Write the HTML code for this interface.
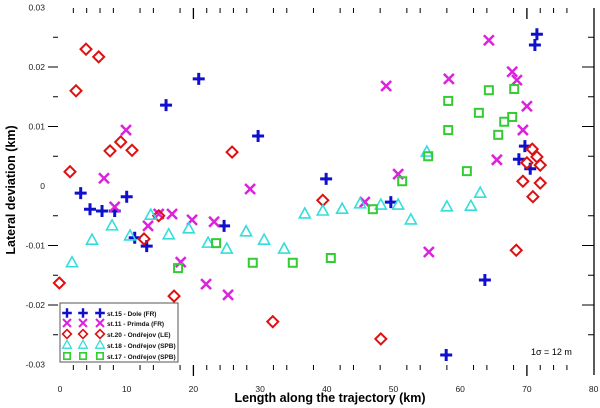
<!DOCTYPE html>
<html><head><meta charset="utf-8"><style>
body{margin:0;background:#fff;}
svg{display:block;font-family:"Liberation Sans",sans-serif;}
</style></head><body>
<svg id="chart" width="600" height="408" viewBox="0 0 600 408">
<g id="axes"></g>
<g id="marks"></g>
<g id="legend"></g>
<text x="330" y="402" text-anchor="middle" font-size="12.5" font-weight="bold">Length along the trajectory (km)</text>
<text x="0" y="0" transform="translate(15,190) rotate(-90)" text-anchor="middle" font-size="12.5" font-weight="bold">Lateral deviation (km)</text>
<text x="531" y="355" font-size="9">1σ = 12 m</text>
</svg>
<script>
const xTicks=[0,10,20,30,40,50,60,70,80];
const yTicks=[0.03,0.02,0.01,0,-0.01,-0.02,-0.03];
const yTickLabels=["0.03","0.02","0.01","0","-0.01","-0.02","-0.03"];
const blueX=[3.1,4.5,6.3,8.2,10.0,11.2,13.0,15.9,20.8,24.6,29.7,39.9,49.6,57.9,63.7,68.8,69.7,70.5,71.2,71.5];
const blueY=[-0.0012,-0.0039,-0.0042,-0.0042,-0.0018,-0.0087,-0.0101,0.0136,0.018,-0.0067,0.0084,0.0012,-0.0027,-0.0284,-0.0158,0.0045,0.0067,0.0029,0.0237,0.0255];
const magX=[6.6,9.9,8.2,13.2,14.8,16.8,19.8,23.1,18.1,21.9,25.2,28.5,45.7,50.7,55.3,48.9,58.3,64.3,67.8,68.5,70.0,69.4,65.5];
const magY=[0.0013,0.0094,-0.0035,-0.0067,-0.0047,-0.0047,-0.0057,-0.006,-0.0128,-0.0165,-0.0183,-0.0005,-0.0027,0.002,-0.0111,0.0168,0.018,0.0245,0.0192,0.0178,0.0134,0.0094,0.0044];
const redX=[3.9,5.8,2.4,7.5,9.1,10.8,1.5,-0.1,14.8,12.6,17.1,25.8,39.4,31.9,48.1,70.8,71.5,72.0,70.0,69.4,72.0,70.9,68.4];
const redY=[0.023,0.0217,0.016,0.0059,0.0074,0.006,0.0024,-0.0163,-0.005,-0.0089,-0.0185,0.0057,-0.0024,-0.0228,-0.0257,0.0062,0.0049,0.0035,0.0039,0.0008,0.0005,-0.0018,-0.0108];
const cyanX=[1.8,4.8,7.8,10.5,13.6,16.3,19.3,22.2,25.0,27.9,30.6,33.6,36.7,39.4,42.3,45.0,48.1,50.7,52.6,55.0,58.0,61.6,63.0];
const cyanY=[-0.0129,-0.0091,-0.0067,-0.0084,-0.0049,-0.0082,-0.0072,-0.0096,-0.0106,-0.0077,-0.0091,-0.0106,-0.0047,-0.0042,-0.0039,-0.003,-0.0032,-0.0032,-0.0057,0.0057,-0.0035,-0.0034,-0.0012];
const greenX=[17.7,23.4,28.9,34.9,40.6,46.9,51.3,55.2,58.2,58.2,61.0,62.8,64.3,65.7,66.6,67.8,68.1];
const greenY=[-0.0138,-0.0096,-0.0129,-0.0129,-0.0121,-0.0039,0.0008,0.005,0.0143,0.0094,0.0025,0.0123,0.0161,0.0086,0.0108,0.0116,0.0163];
const legendLabels=["st.15 - Dole (FR)","st.11 - Primda (FR)","st.20 - Ondřejov (LE)","st.18 - Ondřejov (SPB)","st.17 - Ondřejov (SPB)"];

const NS="http://www.w3.org/2000/svg";
const sx=v=>60+v*6.67;
const sy=v=>186-v*5950;
function mk(tag,attrs,parent){const e=document.createElementNS(NS,tag);for(const k in attrs)e.setAttribute(k,attrs[k]);parent.appendChild(e);return e;}
const axes=document.getElementById('axes');
// x tick labels
xTicks.forEach(t=>{const e=mk('text',{x:sx(t),y:392,'text-anchor':'middle','font-size':'8.5',fill:'#222'},axes);e.textContent=String(t);

});
// minor x ticks top & bottom
const minorKm=[2,4,6,8,12,14,18,22,24,26,28,32,34,38,42,44,48,52,54,58,62,64,68,72,74,76];
minorKm.forEach(k=>{[[365,370],[8,13]].forEach(([a,b])=>{const l=mk('line',{x1:sx(k),x2:sx(k),y1:a,y2:b,stroke:'#000','stroke-width':1},axes);

});});
[20,70].forEach(k=>{[[365,376],[8,19]].forEach(([a,b])=>{const l=mk('line',{x1:sx(k),x2:sx(k),y1:a,y2:b,stroke:'#000','stroke-width':1.3},axes);

});});
// y ticks
yTicks.forEach((t,i)=>{const y=sy(t);const e=mk('text',{x:45,y:y+3,'text-anchor':'end','font-size':'8.5',fill:'#222'},axes);e.textContent=yTickLabels[i];


if(t!==0&&Math.abs(t)<0.03){const l=mk('line',{x1:48,x2:58,y1:y,y2:y,stroke:'#000'},axes);


const r=mk('line',{x1:582,x2:594,y1:y,y2:y,stroke:'#000'},axes);

}});
[0.025,0.015,0.005,-0.005,-0.015,-0.025].forEach(t=>{const y=sy(t);
const l=mk('line',{x1:53,x2:58,y1:y,y2:y,stroke:'#000'},axes);


const r=mk('line',{x1:588,x2:594,y1:y,y2:y,stroke:'#000'},axes);

});
const ra=mk('line',{x1:594,x2:594,y1:8,y2:375,stroke:'#000','stroke-width':1.3},axes);



function marker(type,x,y,parent){
 let g;
 if(type==='plus'){g=mk('path',{d:`M${x-6},${y}H${x+6}M${x},${y-6}V${y+6}`,stroke:'#1010cc','stroke-width':3,fill:'none'},parent);}
 else if(type==='cross'){g=mk('path',{d:`M${x-5},${y-5}L${x+5},${y+5}M${x-5},${y+5}L${x+5},${y-5}`,stroke:'#dd22dd','stroke-width':2.5,fill:'none'},parent);}
 else if(type==='diamond'){g=mk('path',{d:`M${x},${y-5.5}L${x+5.5},${y}L${x},${y+5.5}L${x-5.5},${y}Z`,stroke:'#dd1111','stroke-width':2,fill:'none'},parent);}
 else if(type==='tri'){g=mk('path',{d:`M${x},${y-6}L${x+5.5},${y+4}L${x-5.5},${y+4}Z`,stroke:'#33dddd','stroke-width':1.6,fill:'none'},parent);}
 else {g=mk('rect',{x:x-4,y:y-4,width:8,height:8,stroke:'#33cc33','stroke-width':2,fill:'none'},parent);}
 return g;
}
const marks=document.getElementById('marks');
const series=[['plus',blueX,blueY,'st15-point'],['cross',magX,magY,'st11-point'],['diamond',redX,redY,'st20-point'],['tri',cyanX,cyanY,'st18-point'],['square',greenX,greenY,'st17-point']];
series.forEach(([t,xs,ys,nm])=>{xs.forEach((v,i)=>{const m=marker(t,sx(v),sy(ys[i]),marks);

});});

const lg=document.getElementById('legend');
const box=mk('rect',{x:60,y:303,width:118,height:59,fill:'#fff',stroke:'#555','stroke-width':1},lg);


const rowsY=[313,323,334,345,356];
series.forEach(([t],i)=>{[67,83,100].forEach(x=>{const m=marker(t,x,rowsY[i],lg);m.setAttribute('transform',`translate(${x},${rowsY[i]}) scale(0.8) translate(${-x},${-rowsY[i]})`);

});
const tx=mk('text',{x:107,y:rowsY[i]+3,'font-size':'6.5','font-weight':'bold',fill:'#111'},lg);tx.textContent=legendLabels[i];

});
</script>
</body></html>
